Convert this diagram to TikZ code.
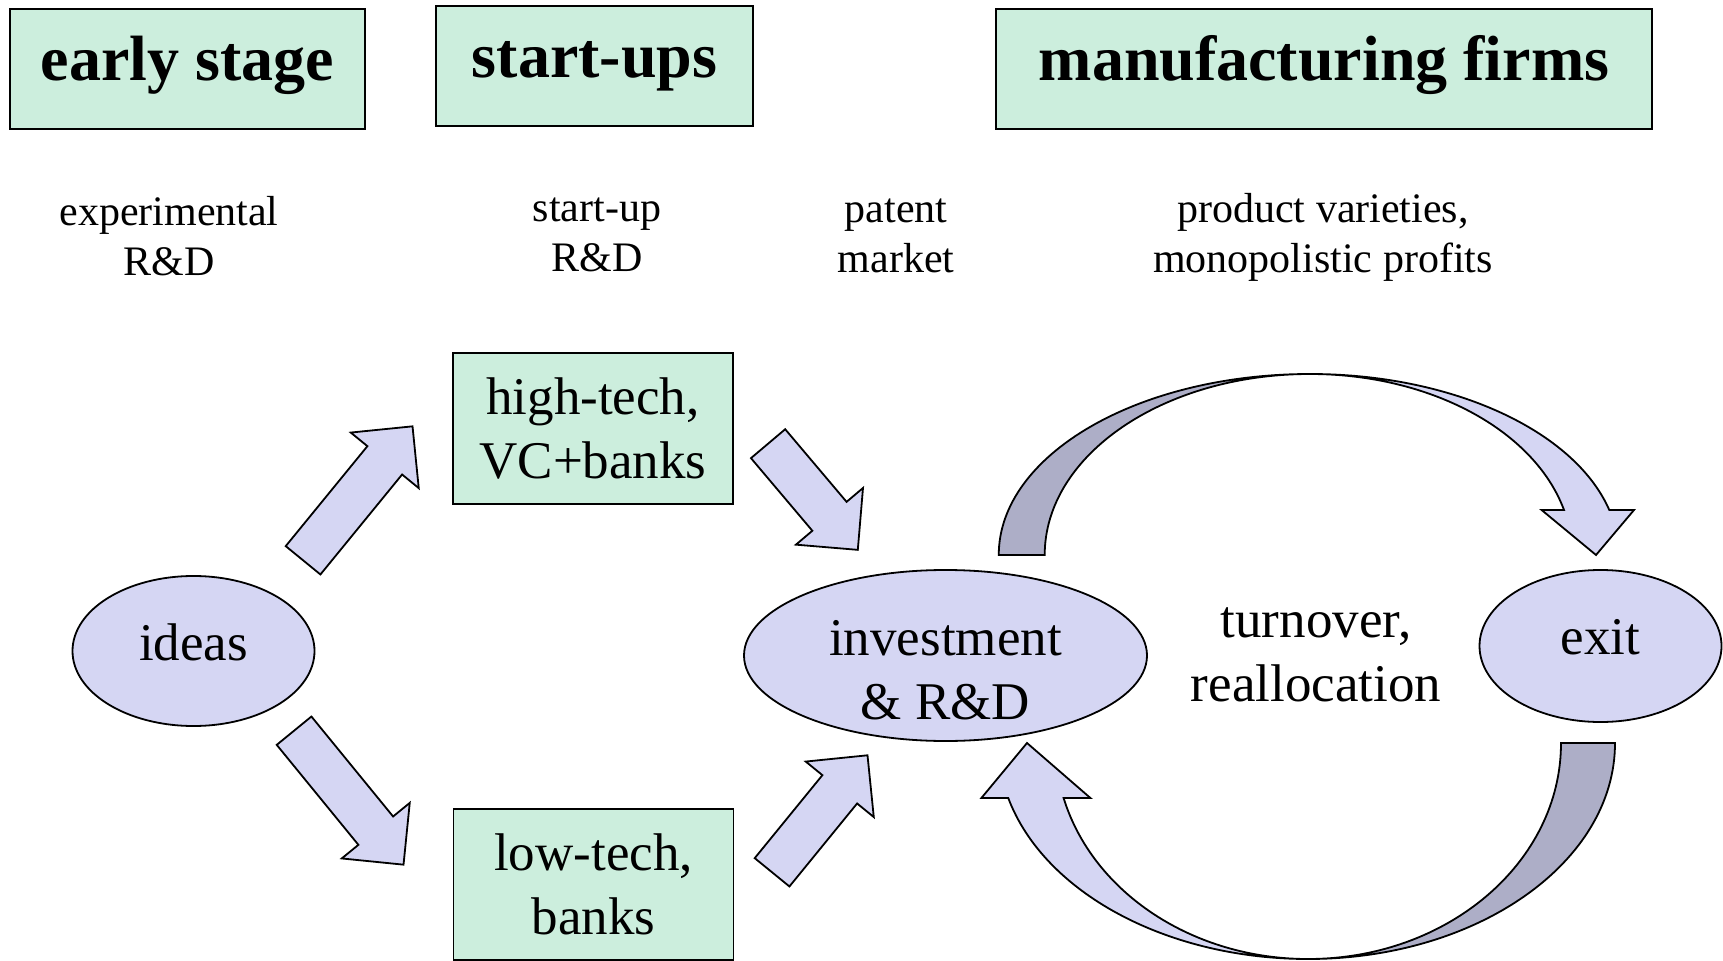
\documentclass[tikz,border=0pt]{standalone}
\usepackage{fontspec}
\setmainfont{Liberation Serif}
\usetikzlibrary{shapes.geometric,shapes.arrows}

\definecolor{boxgreen}{HTML}{CCEEDD}
\definecolor{ovalblue}{HTML}{D5D6F3}
\definecolor{backblue}{HTML}{ADAEC7}

\begin{document}
\begin{tikzpicture}[x=0.5pt,y=0.5pt,
    stagebox/.style={draw,line width=1pt,fill=boxgreen,inner sep=0pt,
      minimum height=60pt,text height=22.4pt,text depth=11pt,
      font=\fontsize{32}{38}\selectfont\bfseries},
    finbox/.style={draw,line width=0.9pt,fill=boxgreen,inner sep=0pt,align=center,
      minimum width=140pt,minimum height=75.5pt,font=\fontsize{26.5}{32}\selectfont},
    oval/.style={draw,line width=0.9pt,ellipse,fill=ovalblue,inner sep=0pt,
      text depth=9pt,font=\fontsize{26.5}{32}\selectfont},
    note/.style={align=center,font=\fontsize{21}{25}\selectfont},
    bigtext/.style={align=center,font=\fontsize{26.5}{32}\selectfont},
    flow/.style={draw,line width=0.9pt,fill=ovalblue,single arrow,
      inner xsep=0pt,inner ysep=10.75pt,minimum width=43pt,
      single arrow head extend=10.75pt,anchor=tail},
    ribbon/.style={draw,line width=0.9pt,line join=miter}
  ]
  \useasboundingbox (0,0) rectangle (1723,960);

  % stage headers
  \node[stagebox,minimum width=177.5pt] (early) at (187.5,891) {early stage};
  \node[stagebox,minimum width=158.5pt] (startups) at (594.5,893.5) {start-ups};
  \node[stagebox,minimum width=328pt] (manuf) at (1324,891) {manufacturing firms};

  \node[note] (exprd) at (169,724) {experimental\\R\&D};
  \node[note] (suprd) at (597,725.5) {start-up\\R\&D};
  \node[note] (patent) at (896,724) {patent\\market};
  \node[note] (profits) at (1323,723) {product varieties,\\monopolistic profits};

  % financing of start-ups
  \node[finbox] (hightech) at (593,531.5) {high-tech,\\VC+banks};
  \node[finbox] (lowtech) at (593.5,75.5) {low-tech,\\banks};

  \node[oval,minimum width=121pt,minimum height=75pt] (ideas) at (193.5,309) {ideas};
  \node[oval,minimum width=201.5pt,minimum height=85.5pt] (invest) at (945.5,304.5) {};
  \node[bigtext] (investtext) at (945.5,290) {investment\\\& R\&D};
  \node[oval,minimum width=121pt,minimum height=76pt] (exit) at (1600.5,314) {exit};
  \node[bigtext] (turnover) at (1316,305.5) {turnover,\\reallocation};

  % block arrows
  \node[flow,minimum height=86.5pt,rotate=50.75] (toHigh) at (302.5,399) {};
  \node[flow,minimum height=86.5pt,rotate=-50.75] (toLow) at (293.5,230) {};
  \node[flow,minimum height=69.5pt,rotate=-49.8] (highInv) at (767.5,517) {};
  \node[flow,minimum height=75.5pt,rotate=50.8] (lowInv) at (771.5,87) {};

  % turnover loop, top
  \draw[ribbon,fill=backblue] (998.75,405) -- (1044.7,405)
    arc[start angle=180,end angle=90,x radius=265.3,y radius=181]
    arc[start angle=90,end angle=180,x radius=311.25,y radius=181] -- cycle;
  \draw[ribbon,fill=ovalblue] (1310,586)
    arc[start angle=90,end angle=14.4,x radius=309,y radius=181]
    -- (1634,450) -- (1596,405) -- (1541.6,450) -- (1564,450)
    arc[start angle=14.4,end angle=90,x radius=262,y radius=181] -- cycle;

  % turnover loop, bottom
  \draw[ribbon,fill=backblue] (1561,217) -- (1615,217)
    arc[start angle=0,end angle=-90,x radius=307,y radius=216]
    arc[start angle=-90,end angle=0,x radius=253,y radius=216] -- cycle;
  \draw[ribbon,fill=ovalblue] (1308,1)
    arc[start angle=-90,end angle=-165.25,x radius=310,y radius=216]
    -- (981.4,162) -- (1027,217) -- (1090.4,162) -- (1063.6,162)
    arc[start angle=-165.25,end angle=-90,x radius=252.7,y radius=216] -- cycle;
\end{tikzpicture}
\end{document}
